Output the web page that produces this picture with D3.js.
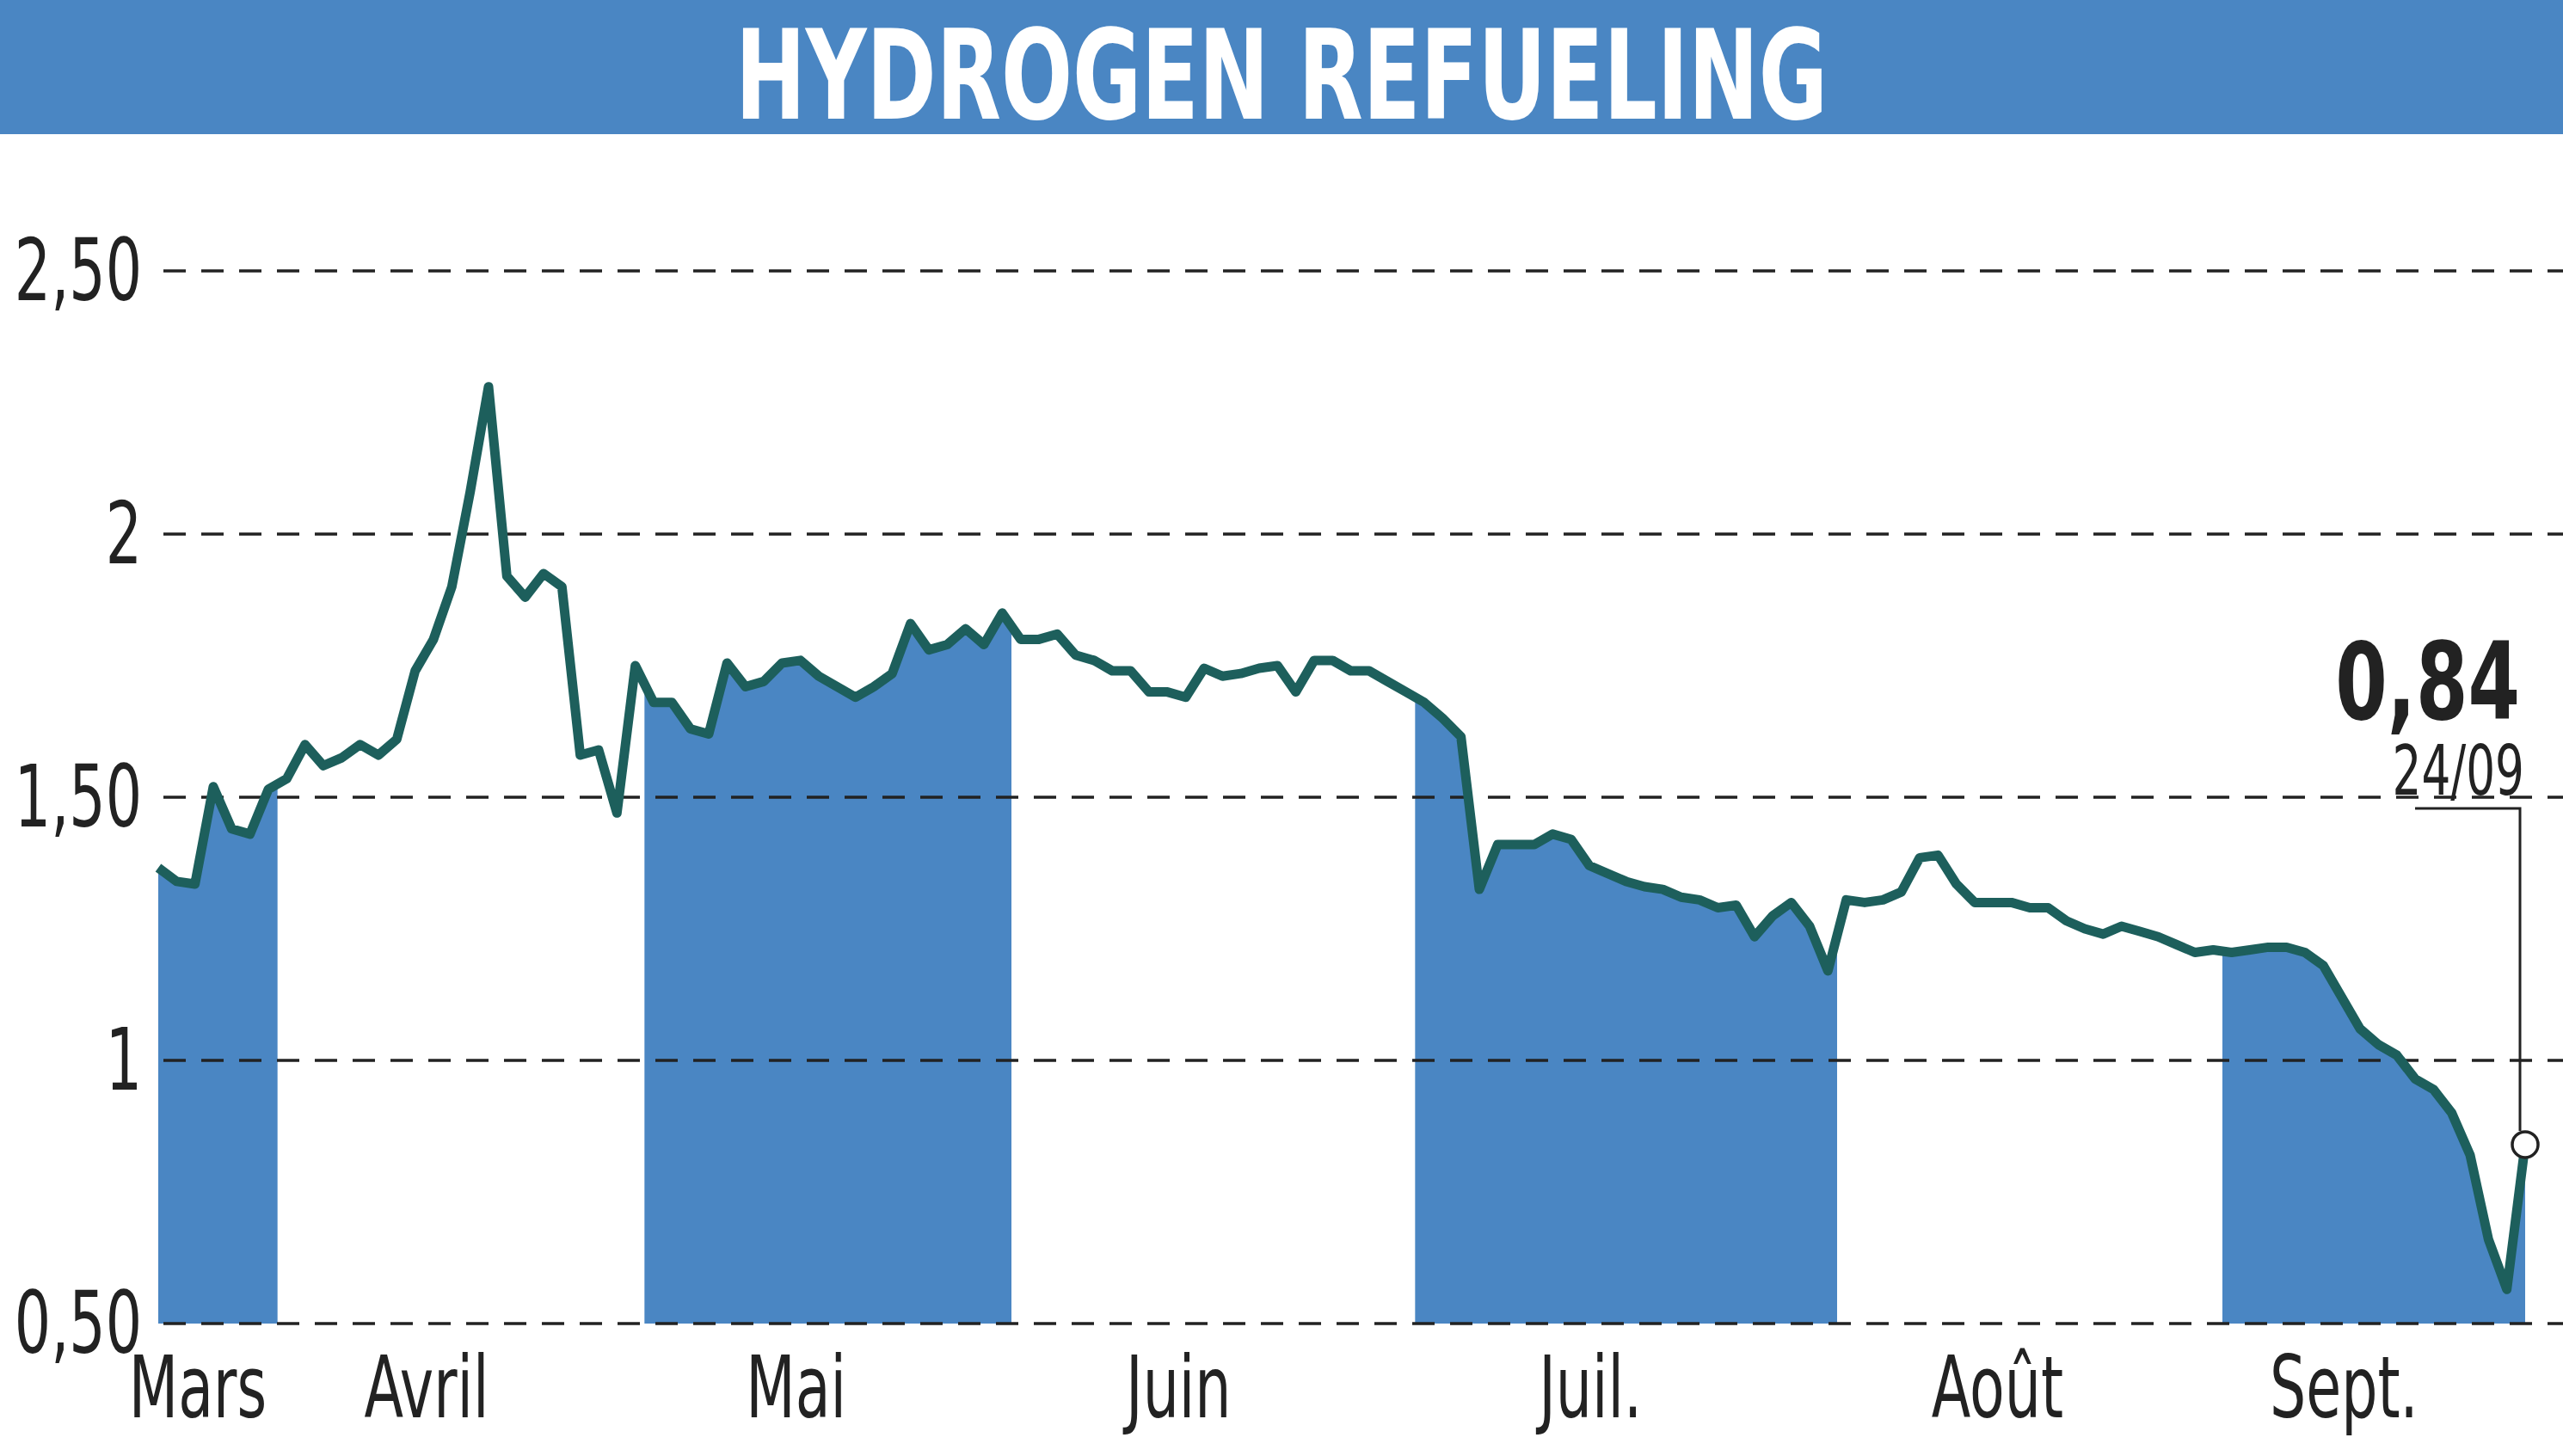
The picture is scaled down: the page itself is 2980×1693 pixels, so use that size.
<!DOCTYPE html>
<html><head><meta charset="utf-8">
<script src="https://cdn.jsdelivr.net/npm/d3@7"></script>
<style>body{margin:0;background:#fff}svg{display:block}</style>
</head><body>
<script>
const title = "HYDROGEN REFUELING";
const months = ["Mars","Avril","Mai","Juin","Juil.","Août","Sept."];
const monthCounts = [7,20,20,22,23,21,17];
const values = [1.366,1.34,1.335,1.52,1.44,1.43,1.515,
1.535,1.60,1.56,1.575,1.60,1.58,1.61,1.74,1.80,1.90,2.08,2.28,1.92,1.88,1.925,1.90,1.58,1.59,1.47,1.75,
1.68,1.68,1.63,1.62,1.755,1.71,1.72,1.755,1.76,1.73,1.71,1.69,1.71,1.735,1.83,1.78,1.79,1.82,1.79,1.85,
1.80,1.80,1.81,1.77,1.76,1.74,1.74,1.70,1.70,1.69,1.745,1.73,1.735,1.745,1.75,1.70,1.76,1.76,1.74,1.74,1.72,1.70,
1.68,1.65,1.615,1.325,1.41,1.41,1.41,1.43,1.42,1.37,1.355,1.34,1.33,1.325,1.31,1.305,1.29,1.295,1.235,1.275,1.30,1.255,1.17,
1.305,1.30,1.305,1.32,1.385,1.39,1.335,1.30,1.30,1.30,1.29,1.29,1.265,1.25,1.24,1.255,1.245,1.235,1.22,1.205,1.21,
1.205,1.21,1.215,1.215,1.205,1.18,1.12,1.06,1.03,1.01,0.965,0.945,0.90,0.82,0.66,0.565,0.84];
const yTicks = [0.5,1,1.5,2,2.5];
const yTickLabels = ["0,50","1","1,50","2","2,50"];
const lastLabel = "0,84", lastDate = "24/09";

const W=2980,H=1693;
const svg=d3.select("body").append("svg").attr("width",W).attr("height",H);
const font="'DejaVu Sans Condensed','Liberation Sans Narrow',sans-serif";
const blue="#4a86c3", lineC="#1d5f5c";
const x=d3.scaleLinear().domain([0,values.length-1]).range([184,2936]);
const y=d3.scaleLinear().domain([0.5,2.5]).range([1539,315]);
function txt(g,tx,ty,sx){return g.append("text").attr("transform",`translate(${tx},${ty}) scale(${sx},1)`).attr("font-family",font).attr("fill","#222");}

svg.append("rect").attr("x",0).attr("y",0).attr("width",W).attr("height",156).attr("fill",blue);
svg.append("text").attr("x",1490).attr("y",138).attr("text-anchor","middle").attr("fill","#fff")
 .attr("font-family",font).attr("font-weight","bold").attr("font-size",145)
 .attr("textLength",1270).attr("lengthAdjust","spacingAndGlyphs").text(title);

let start=0; const bounds=[];
monthCounts.forEach((c,i)=>{bounds.push([start,start+c-1]);start+=c;});
const clip=svg.append("clipPath").attr("id","c");
clip.append("path").attr("d",d3.area().x((d,i)=>x(i)).y0(y(0.5)).y1(d=>y(d))(values));
bounds.forEach((b,i)=>{
  const x0 = i===0 ? x(b[0]) : (x(b[0])+x(b[0]-1))/2;
  const x1 = i===bounds.length-1 ? x(b[1]) : (x(b[1])+x(b[1]+1))/2;
  if(i%2===0) svg.append("rect").attr("x",x0).attr("y",y(2.5)).attr("width",x1-x0)
    .attr("height",y(0.5)-y(2.5)).attr("fill",blue).attr("clip-path","url(#c)");
});

svg.append("g").selectAll("line").data(yTicks).join("line")
 .attr("x1",190).attr("x2",W).attr("y1",d=>y(d)).attr("y2",d=>y(d))
 .attr("stroke","#222").attr("stroke-width",3.5).attr("stroke-dasharray","26,18");
yTicks.forEach((d,i)=>txt(svg,165,y(d)+34,0.74).attr("text-anchor","end").attr("font-size",100).text(yTickLabels[i]));

svg.append("path").datum(values).attr("d",d3.line().x((d,i)=>x(i)).y(d=>y(d)))
 .attr("fill","none").attr("stroke",lineC).attr("stroke-width",11).attr("stroke-linejoin","round");

const labelX=[121,261,487,721,973,1222,1434].map(v=>v*1.9005);
months.forEach((m,i)=>txt(svg,labelX[i],1648,0.74).attr("text-anchor","middle").attr("font-size",100).text(m));

const li=values.length-1, lx=x(li), ly=y(values[li]);
txt(svg,2930,836,0.78).attr("text-anchor","end").attr("font-weight","bold").attr("font-size",124).text(lastLabel);
txt(svg,2935,924,0.74).attr("text-anchor","end").attr("font-size",80).text(lastDate);
svg.append("polyline").attr("points",`2808,940 ${lx-6},940 ${lx-6},${ly-16}`)
 .attr("fill","none").attr("stroke","#222").attr("stroke-width",3);
svg.append("circle").attr("cx",lx).attr("cy",ly).attr("r",15).attr("fill","#fff")
 .attr("stroke","#222").attr("stroke-width",3.5);
</script>
</body></html>
